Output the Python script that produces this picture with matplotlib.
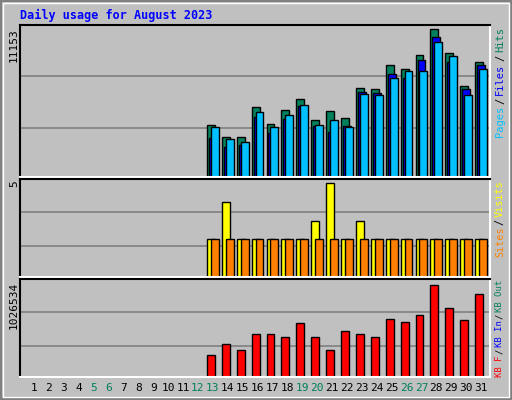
import matplotlib
matplotlib.use("Agg")
import matplotlib.pyplot as plt
from matplotlib.patches import Rectangle

days = list(range(13, 32))
hits = [3929, 3016, 3016, 5298, 4005, 5070, 5906, 4309, 4994, 4461, 6743, 6667, 8416, 8111, 9176, 11153, 9328, 6895, 8644]
files = [2941, 2256, 2408, 4537, 3321, 4385, 5374, 3853, 3397, 3853, 6439, 6363, 7731, 7427, 8796, 10545, 8644, 6667, 8416]
pages = [3752, 2864, 2636, 4918, 3752, 4690, 5450, 3929, 4309, 3777, 6286, 6211, 7427, 7960, 7960, 10165, 9100, 6211, 8112]
visits = [2, 4, 2, 2, 2, 2, 2, 3, 5, 2, 3, 2, 2, 2, 2, 2, 2, 2, 2]
sites = [2] * 19
kbytes = [243000, 363000, 296000, 476000, 476000, 442000, 599000, 442000, 307000, 509000, 476000, 442000, 644000, 611000, 689000, 1026534, 768000, 633000, 925000]
weekend = [5, 6, 12, 13, 19, 20, 26, 27]

W, H = 512, 400
BG = "#c0c0c0"
fig = plt.figure(figsize=(W / 100, H / 100), dpi=100, facecolor=BG)
mono = "DejaVu Sans Mono"

def px(x0, y0, x1, y1):
    return [x0 / W, 1 - y1 / H, (x1 - x0) / W, (y1 - y0) / H]

xl = (0.06, 31.6)
def mkax(rect, ymax, grids):
    ax = fig.add_axes(px(*rect))
    ax.set_facecolor(BG)
    ax.set_xlim(*xl)
    ax.set_ylim(0, ymax)
    ax.set_xticks([]); ax.set_yticks([])
    for g in grids:
        ax.axhline(ymax * g, color="#808080", lw=1.2, zorder=0)
    for s in ["top", "left"]:
        ax.spines[s].set_color("black")
    for s in ["bottom", "right"]:
        ax.spines[s].set_color("white")
    for s in ax.spines.values():
        s.set_linewidth(1.5)
    return ax

ec = dict(edgecolor="black", linewidth=1)
ax1 = mkax((20, 25, 490, 177), 11153 * 151 / 147, [0.325, 0.662])
ax1.bar([d - 0.13 for d in days], hits, width=0.53, color="#00805c", **ec)
ax1.bar(days, files, width=0.53, color="#0000ff", **ec)
ax1.bar([d + 0.13 for d in days], pages, width=0.53, color="#00c0ff", **ec)

ax2 = mkax((20, 179, 490, 277), 5 * 96 / 92, [0.32, 0.66])
ax2.bar([d - 0.13 for d in days], visits, width=0.53, color="#ffff00", **ec)
ax2.bar([d + 0.13 for d in days], sites, width=0.53, color="#ff8000", **ec)

ax3 = mkax((20, 279, 490, 377), 1026534 * 97 / 91, [0.32, 0.66])
ax3.bar([d - 0.13 for d in days], kbytes, width=0.53, color="#ff0000", **ec)

fig.patches.append(Rectangle((0, 0), 1, 1, transform=fig.transFigure, fill=False,
                             edgecolor="#808080", lw=3))
fig.patches.append(Rectangle((3 / W, 3 / H), 1 - 6 / W, 1 - 6 / H, transform=fig.transFigure,
                             fill=False, edgecolor="white", lw=1))

fig.text(20 / W, 1 - 15 / H, "Daily usage for August 2023", color="#0000ff",
         fontsize=8.5, fontweight="bold", family=mono, va="center")

for d in range(1, 32):
    x = 34 + (d - 1) * 14.9
    fig.text(x / W, 1 - 388 / H, str(d), ha="center", va="center", fontsize=8,
             family=mono, color="#00805c" if d in weekend else "black")

for txt, ytop in [("11153", 28), ("5", 180), ("1026534", 282)]:
    fig.text(14 / W, 1 - ytop / H, txt, rotation=90, ha="center", va="top",
             fontsize=8, family=mono)

def vlabel(ybot, ytop, segs):
    # segs: text pieces; "/" separators get a little padding
    units = sum(len(t) if t != "/" else 1.6 for t, c in segs)
    adv = (ybot - ytop) / units
    fs = min(7.5, adv / (0.602 * 100 / 72))
    y = ybot
    for t, c in segs:
        n = len(t) if t != "/" else 1.6
        fig.text(500 / W, 1 - (y - n * adv / 2) / H, t, rotation=90, ha="center",
                 va="center", fontsize=fs, family=mono, color=c)
        y -= n * adv

vlabel(138, 27, [("Pages", "#00c0ff"), ("/", "black"), ("Files", "#0000ff"),
                 ("/", "black"), ("Hits", "#00805c")])
vlabel(257, 180, [("Sites", "#ff8000"), ("/", "black"), ("Visits", "#ffff00")])
vlabel(377, 280, [("KB F", "#ff0000"), ("/", "black"), ("KB In", "#0000ff"),
                  ("/", "black"), ("KB Out", "#00805c")])
fig.savefig("out.png", dpi=100, facecolor=BG)
